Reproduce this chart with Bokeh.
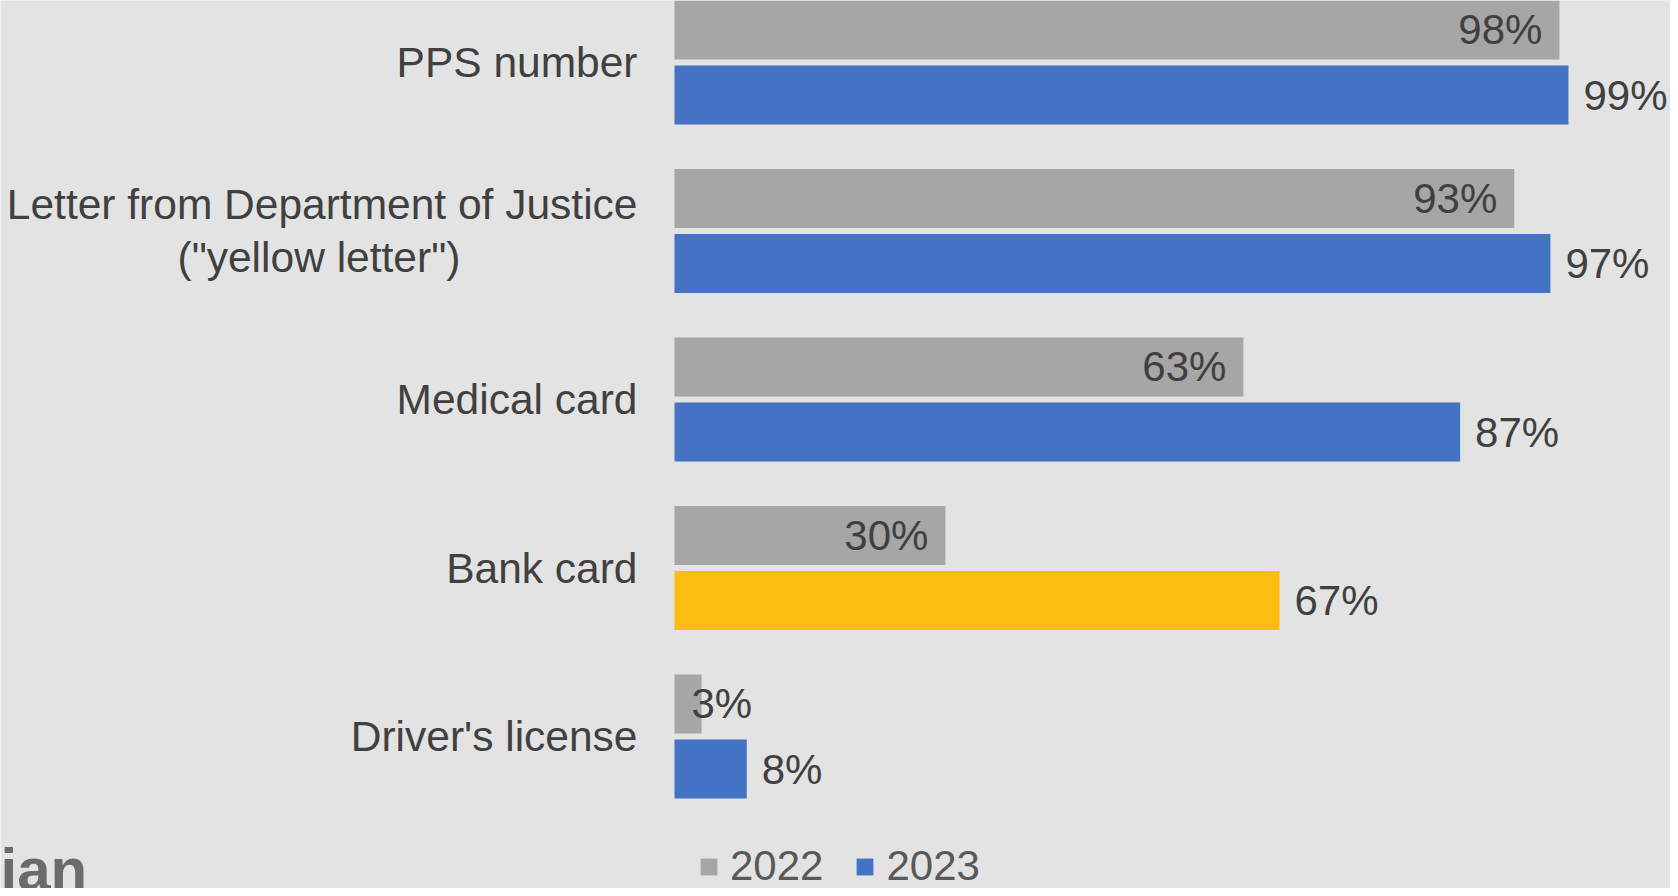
from bokeh.plotting import figure
from bokeh.models import ColumnDataSource, Range1d, Legend, LegendItem
from bokeh.transform import dodge
from bokeh.embed import file_html
from bokeh.resources import INLINE
from bokeh.core.properties import value

NB = "\u00a0"
categories = ["PPS number",
              "Letter from Department of Justice\n(\"yellow letter\")" + NB * 15,
              "Medical card",
              "Bank card",
              "Driver's license"]
v2022 = [98, 93, 63, 30, 3]
v2023 = [99, 97, 87, 67, 8]
colors2023 = ["#4472c4", "#4472c4", "#4472c4", "#fbbd12", "#4472c4"]
labels2022 = [f"{v}%" for v in v2022]
labels2023 = [f"{v}%" for v in v2023]
series = ["2022", "2023"]
watermark = "ian"

FONT = "Liberation Sans"
BG = "#e3e3e3"
TXT = "#404040"

W, H = 1670, 888
X0, X1 = -74.64, 110.3
px_per = W / (X1 - X0)
fs = 42

ypos = list(range(len(categories)))
Y_TOP, Y_BOT = -0.368, 4.902

# inside-end labels for 2022 unless they don't fit
lab_w = [len(s) * 0.55 * fs for s in labels2022]
x22, a22, o22 = [], [], []
for v, w in zip(v2022, lab_w):
    if v * px_per > w + 30:
        x22.append(v); a22.append("right"); o22.append(-17)
    else:
        x22.append(0); a22.append("left"); o22.append(17)

src = ColumnDataSource(dict(y=ypos, cat=categories, zero=[0] * len(ypos),
                            v2022=v2022, v2023=v2023, c23=colors2023,
                            l22=labels2022, l23=labels2023, x22=x22, a22=a22, o22=o22))

p = figure(width=W, height=H, output_backend="svg", toolbar_location=None,
           x_range=Range1d(X0, X1), y_range=Range1d(Y_BOT, Y_TOP),
           x_axis_location=None, y_axis_location=None,
           min_border_left=0, min_border_right=0,
           min_border_top=0, min_border_bottom=0)
p.background_fill_color = BG
p.border_fill_color = BG
p.outline_line_color = None
p.xgrid.visible = False
p.ygrid.visible = False

off = 0.193
bh = 0.35
r22 = p.hbar(y=dodge("y", -off, range=p.y_range), left=0, right="v2022", height=bh,
             fill_color="#a6a6a6", line_color=None, source=src)
r23 = p.hbar(y=dodge("y", off, range=p.y_range), left=0, right="v2023", height=bh,
             fill_color="c23", line_color=None, source=src)

p.text(x="x22", y=dodge("y", -off, range=p.y_range), text="l22", text_align="a22",
       x_offset="o22", text_baseline="middle", text_font=value(FONT),
       text_font_size=f"{fs}px", text_color=TXT, source=src)
p.text(x="v2023", y=dodge("y", off, range=p.y_range), text="l23", text_align="left",
       x_offset=15, text_baseline="middle", text_font=value(FONT),
       text_font_size=f"{fs}px", text_color=TXT, source=src)

# category labels
p.text(x="zero", y="y", text="cat", text_align="right", x_offset=-37,
       text_baseline="middle", text_line_height=1.12, text_font=value(FONT),
       text_font_size="42.5px", text_color=TXT, source=src)

legend = Legend(items=[LegendItem(label=series[0], renderers=[r22], index=0),
                       LegendItem(label=series[1], renderers=[r23], index=0)],
                orientation="horizontal", location=(698, -2),
                glyph_width=21, glyph_height=21, label_standoff=11, spacing=31,
                padding=0, margin=0, border_line_color=None,
                background_fill_alpha=0, label_text_font=FONT,
                label_text_font_size=f"{fs}px", label_text_color="#595959")
p.add_layout(legend)

p.text(x=[X0], y=[4.79], text=[watermark], text_font=value(FONT),
       text_font_style="bold", text_font_size="60px", text_color="#6b6b6b",
       text_align="left", text_baseline="alphabetic")

open("out.html", "w").write(file_html(p, INLINE))
